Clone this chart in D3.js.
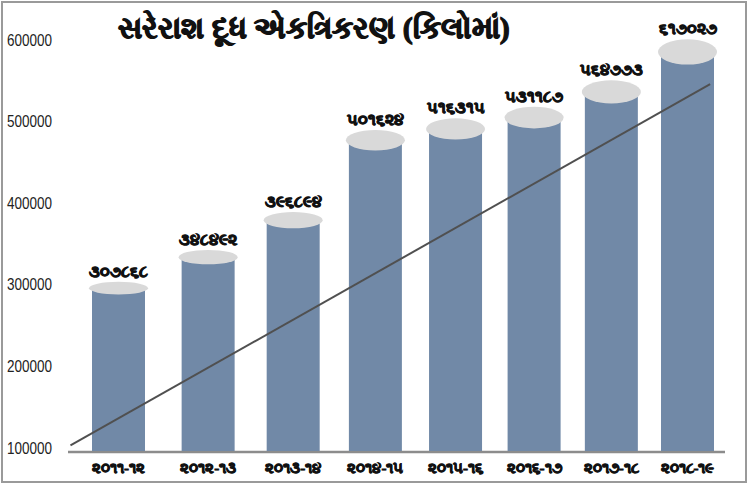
<!DOCTYPE html>
<html>
<head>
<meta charset="utf-8">
<script src="https://cdn.jsdelivr.net/npm/d3@7"></script>
<style>
  body { margin: 0; background: #fff; }
  svg { display: block; }
</style>
</head>
<body>
<div id="chart"></div>
<script>
// data
const years = ['૨૦૧૧-૧૨', '૨૦૧૨-૧૩', '૨૦૧૩-૧૪', '૨૦૧૪-૧૫', '૨૦૧૫-૧૬', '૨૦૧૬-૧૭', '૨૦૧૭-૧૮', '૨૦૧૮-૧૯'];
const milk = [307868, 348492, 396894, 501624, 516315, 531187, 564773, 617027];
const yTicks = [100000, 200000, 300000, 400000, 500000, 600000];
const trendIdx = [0.5, 8.3];
const trendVal = [102000, 575000];
const title = 'સરેરાશ દૂધ એકત્રિકરણ (કિલોમાં)';

const W = 748, H = 485;
const floorY = 452;
const guDigits = '૦૧૨૩૪૫૬૭૮૯';
const toGu = n => String(n).replace(/[0-9]/g, c => guDigits[+c]);

const svg = d3.select('#chart')
  .append('svg')
  .attr('width', W)
  .attr('height', H);

// outer frame
svg.append('rect')
  .attr('x', 2).attr('y', 2)
  .attr('width', W - 4).attr('height', H - 5)
  .attr('fill', '#fff')
  .attr('stroke', '#9a9a9a')
  .attr('stroke-width', 2);

// back wall scale (tick labels) and front scale (bars) - 3d look
const yWall = d3.scaleLinear().domain([100000, 600000]).range([448, 40]);
const yBar = d3.scaleLinear().domain([100000, 600000]).range([447, 65]);
// perspective in x: bars get a bit closer towards the right
const x = d3.scalePow().exponent(0.9).domain([1, 8]).range([118.5, 687.5]);
const ry = d3.scaleLinear().domain([floorY, 0]).range([2, 14]);

const bodyHalf = 26.5, capRx = 29.5;

// y labels (no axis line), squeezed like a narrow font
const yAxis = d3.axisLeft(yWall).tickValues(yTicks).tickSize(0).tickFormat(d3.format('d'));
const gy = svg.append('g')
  .attr('class', 'y-axis')
  .attr('transform', 'translate(7,0)')
  .call(yAxis);
gy.select('.domain').remove();
gy.selectAll('text')
  .attr('text-anchor', 'start')
  .attr('x', 0)
  .attr('fill', '#222')
  .attr('textLength', 45)
  .attr('lengthAdjust', 'spacingAndGlyphs')
  .style('font-family', '"Liberation Sans", Arial, sans-serif')
  .style('font-size', '16px');

// floor line
svg.append('line')
  .attr('x1', 68).attr('x2', 725)
  .attr('y1', floorY).attr('y2', floorY)
  .attr('stroke', '#8c8c8c')
  .attr('stroke-width', 2.5);

const bars = svg.selectAll('.bar')
  .data(milk)
  .enter()
  .append('g')
  .attr('class', 'bar');

bars.append('rect')
  .attr('x', (d, i) => x(i + 1) - bodyHalf)
  .attr('y', d => yBar(d))
  .attr('width', bodyHalf * 2)
  .attr('height', d => floorY - 1 - yBar(d))
  .attr('fill', '#7189a7');

bars.append('ellipse')
  .attr('cx', (d, i) => x(i + 1))
  .attr('cy', d => yBar(d))
  .attr('rx', capRx)
  .attr('ry', d => ry(yBar(d)))
  .attr('fill', '#d9d9d9');

bars.append('text')
  .attr('x', (d, i) => x(i + 1))
  .attr('y', d => yBar(d) - ry(yBar(d)) - 5)
  .attr('text-anchor', 'middle')
  .attr('font-weight', 'bold')
  .attr('font-size', '16px')
  .attr('fill', '#111')
  .attr('stroke', '#111')
  .attr('stroke-width', 0.9)
  .text(d => toGu(d));

// trend line
svg.append('line')
  .attr('x1', x(trendIdx[0])).attr('y1', yBar(trendVal[0]))
  .attr('x2', x(trendIdx[1])).attr('y2', yBar(trendVal[1]))
  .attr('stroke', '#505050')
  .attr('stroke-width', 2);

// category labels
svg.selectAll('.xlab')
  .data(years)
  .enter()
  .append('text')
  .attr('class', 'xlab')
  .attr('x', (d, i) => x(i + 1))
  .attr('y', 473)
  .attr('text-anchor', 'middle')
  .attr('font-weight', 'bold')
  .attr('font-size', '15px')
  .attr('fill', '#111')
  .attr('stroke', '#111')
  .attr('stroke-width', 0.8)
  .text(d => d);

svg.append('text')
  .attr('x', 314)
  .attr('y', 38)
  .attr('text-anchor', 'middle')
  .attr('font-weight', 'bold')
  .attr('font-size', '30px')
  .attr('fill', '#111')
  .attr('stroke', '#111')
  .attr('stroke-width', 1.2)
  .text(title);
</script>
</body>
</html>
